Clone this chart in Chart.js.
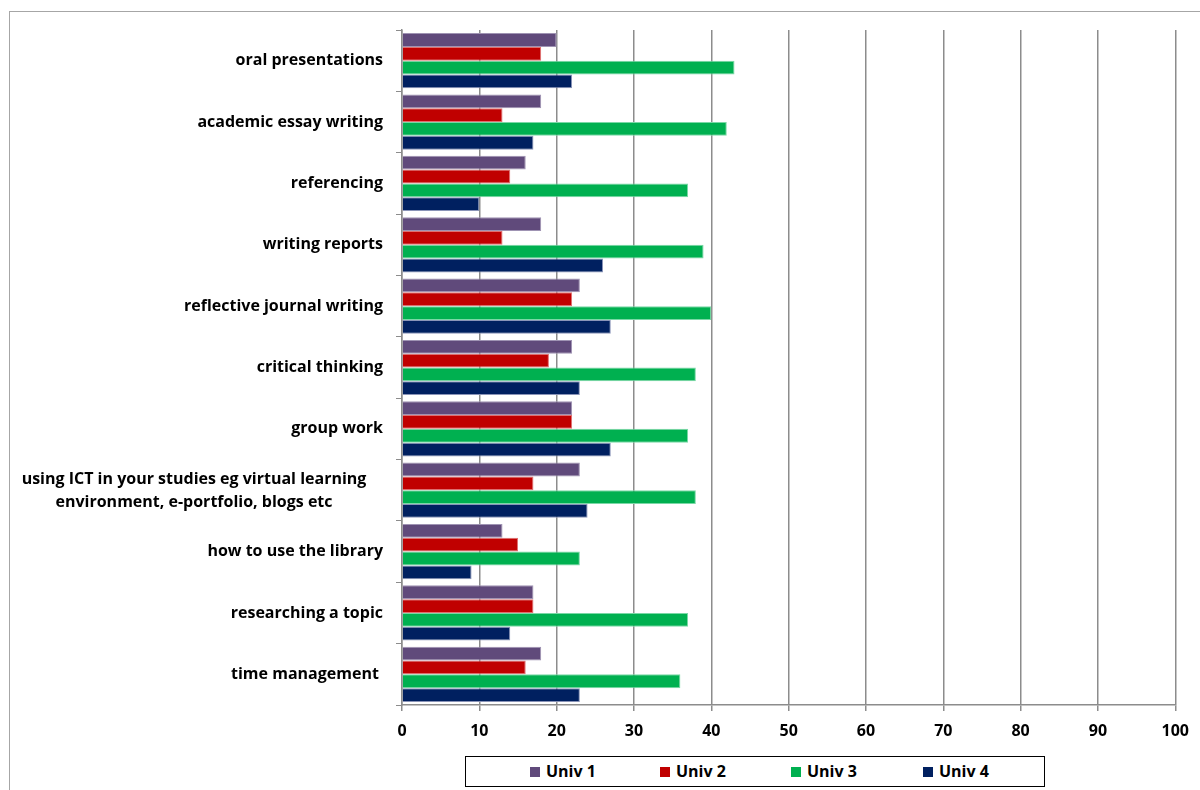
<!DOCTYPE html>
<html>
<head>
<meta charset="utf-8">
<script src="https://cdn.jsdelivr.net/npm/chart.js@4"></script>
<style>
  body { margin: 0; background: #fff; }
  #wrap { position: relative; width: 1200px; height: 790px; overflow: hidden; }
  #frame { position: absolute; left: 9px; top: 11px; width: 1300px; height: 900px; border: 1px solid #a6a6a6; }
  #legend {
    position: absolute; left: 465px; top: 756px; width: 580px; height: 31px;
    border: 1px solid #000; box-sizing: border-box; background: #fff;
    font: bold 16px "Open Sans", Lato, sans-serif; color: #000;
  }
  #legend span.item { position: absolute; top: 3px; white-space: nowrap; }
  #legend span.box { display: inline-block; width: 10px; height: 10px; margin-right: 6px; }
</style>
</head>
<body>
<div id="wrap">
  <div id="frame"></div>
  <canvas id="skillsChart" width="1200" height="790" style="position:absolute;left:0;top:0"></canvas>
  <div id="legend"></div>
</div>
<script>
// categories, top to bottom
const categories = [
    'oral presentations',
    'academic essay writing',
    'referencing',
    'writing reports',
    'reflective journal writing',
    'critical thinking',
    'group work',
    ['using ICT in your studies eg virtual learning', 'environment, e-portfolio, blogs etc'],
    'how to use the library',
    'researching a topic',
    'time management '
];

const seriesNames = ['Univ 1', 'Univ 2', 'Univ 3', 'Univ 4'];
const univ1 = [20, 18, 16, 18, 23, 22, 22, 23, 13, 17, 18];
const univ2 = [18, 13, 14, 13, 22, 19, 22, 17, 15, 17, 16];
const univ3 = [43, 42, 37, 39, 40, 38, 37, 38, 23, 37, 36];
const univ4 = [22, 17, 10, 26, 27, 23, 27, 24, 9, 14, 23];
const xTicks = [0, 10, 20, 30, 40, 50, 60, 70, 80, 90, 100];

const colors = ['#604A7B', '#C00000', '#00B050', '#002060'];
const borders = ['#9f93b3', '#e07070', '#7ad8a6', '#8a94b8'];
const FONT = '"Open Sans", Lato, sans-serif';

// y labels drawn by hand so the two-line label is centred like the original
const yLabelsPlugin = {
    id: 'yLabels',
    afterDraw(chart) {
        const c = chart.ctx;
        const yScale = chart.scales.y;
        c.save();
        c.font = 'bold 16px ' + FONT;
        c.fillStyle = '#000';
        c.textBaseline = 'middle';
        categories.forEach((label, i) => {
            const y = yScale.getPixelForTick(i);
            if (Array.isArray(label)) {
                c.textAlign = 'center';
                const cx = 194;
                c.fillText(label[0], cx, y - 11);
                c.fillText(label[1], cx, y + 12);
            } else {
                c.textAlign = 'right';
                c.fillText(label, 383, y);
            }
        });
        c.restore();
    }
};

const datasets = [univ1, univ2, univ3, univ4].map((data, i) => ({
    label: seriesNames[i],
    data: data,
    backgroundColor: colors[i],
    borderColor: borders[i],
    borderWidth: 1,
    categoryPercentage: 0.9,
    barPercentage: 1.0
}));

new Chart(document.getElementById('skillsChart').getContext('2d'), {
    type: 'bar',
    data: {
        labels: categories.map((c, i) => 'c' + i),
        datasets: datasets
    },
    options: {
        indexAxis: 'y',
        responsive: false,
        animation: false,
        layout: { padding: { top: 30, right: 22, left: 0, bottom: 0 } },
        plugins: {
            legend: { display: false },
            tooltip: { enabled: false }
        },
        scales: {
            x: {
                min: 0,
                max: 100,
                afterBuildTicks: scale => { scale.ticks = xTicks.map(v => ({ value: v })); },
                afterFit: scale => { scale.height = 85; },
                grid: { color: '#8c8c8c', lineWidth: 1.5, tickLength: 6 },
                border: { color: '#8c8c8c', width: 1.5 },
                ticks: {
                    padding: 11,
                    color: '#000',
                    font: { family: FONT, size: 16, weight: 'bold' }
                }
            },
            y: {
                afterFit: scale => { scale.width = 402; },
                grid: { drawOnChartArea: false, color: '#8c8c8c', tickLength: 6, offset: true },
                border: { color: '#8c8c8c', width: 1.5 },
                ticks: { display: false }
            }
        }
    },
    plugins: [yLabelsPlugin]
});

// legend in a box under the axis
const legendEl = document.getElementById('legend');
const legendX = [64, 194, 325, 457];
seriesNames.forEach((name, i) => {
    const item = document.createElement('span');
    item.className = 'item';
    item.style.left = legendX[i] + 'px';
    item.innerHTML = '<span class="box" style="background:' + colors[i] + '"></span>' + name;
    legendEl.appendChild(item);
});
</script>
</body>
</html>
